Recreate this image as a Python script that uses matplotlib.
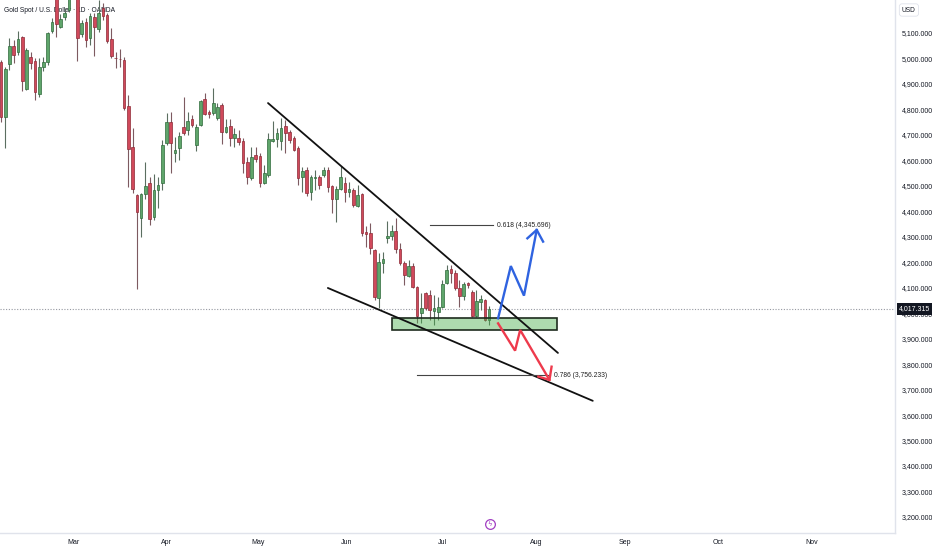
import matplotlib
matplotlib.use("Agg")
import matplotlib.pyplot as plt
import numpy as np
from matplotlib.patches import Rectangle
from matplotlib.transforms import blended_transform_factory

plt.rcParams['font.family'] = ['Liberation Sans', 'DejaVu Sans']

# ---------------- data (daily OHLC, bar index = trading day) ----------------
opens = [4986, 4770, 4978, 5049, 5025, 5084, 4880, 5006, 4990, 4861,
         4967, 4986, 5108, 5261, 5124, 5163, 5190, 5328, 5269, 5096,
         5143, 5080, 5163, 5116, 5198, 5171, 5076, 5002, 4998, 4994,
         4813, 4653, 4464, 4374, 4468, 4511, 4378, 4484, 4511, 4668,
         4751, 4629, 4649, 4731, 4719, 4762, 4660, 4739, 4841, 4790,
         4786, 4766, 4817, 4711, 4735, 4688, 4688, 4676, 4594, 4531,
         4621, 4617, 4511, 4543, 4676, 4684, 4676, 4735, 4711, 4688,
         4649, 4535, 4562, 4476, 4531, 4535, 4543, 4562, 4499, 4448,
         4488, 4511, 4476, 4484, 4421, 4468, 4319, 4315, 4248, 4060,
         4197, 4295, 4303, 4323, 4252, 4197, 4146, 4185, 4103, 4001,
         4079, 4071, 4009, 4005, 4024, 4119, 4174, 4158, 4099, 4068,
         4119, 4083, 3989, 4044, 4052, 3973]
highs = [4994, 4967, 5080, 5073, 5108, 5088, 5041, 5025, 5002, 5002,
         5006, 5104, 5159, 5277, 5175, 5198, 5277, 5367, 5288, 5151,
         5159, 5179, 5179, 5230, 5218, 5179, 5120, 5025, 5037, 5006,
         4857, 4727, 4468, 4472, 4594, 4535, 4546, 4535, 4680, 4786,
         4790, 4692, 4711, 4849, 4790, 4778, 4743, 4837, 4864, 4798,
         4884, 4825, 4825, 4762, 4762, 4727, 4719, 4688, 4613, 4653,
         4653, 4629, 4582, 4707, 4755, 4727, 4766, 4758, 4719, 4696,
         4656, 4574, 4574, 4543, 4562, 4543, 4574, 4574, 4503, 4499,
         4578, 4535, 4515, 4492, 4503, 4472, 4342, 4354, 4252, 4236,
         4240, 4362, 4346, 4374, 4276, 4205, 4209, 4197, 4107, 4079,
         4083, 4091, 4071, 4064, 4130, 4189, 4189, 4170, 4130, 4122,
         4122, 4091, 4091, 4071, 4056, 4030]
lows = [4751, 4649, 4955, 4982, 5014, 4872, 4876, 4959, 4837, 4849,
        4951, 4974, 5100, 5084, 5120, 5151, 5183, 5237, 4990, 5084,
        5045, 5053, 5010, 5104, 5151, 5061, 5002, 4963, 4967, 4798,
        4495, 4472, 4095, 4299, 4448, 4346, 4366, 4413, 4484, 4660,
        4550, 4594, 4601, 4700, 4700, 4731, 4637, 4735, 4778, 4766,
        4778, 4758, 4664, 4707, 4656, 4653, 4660, 4550, 4507, 4523,
        4594, 4495, 4507, 4535, 4672, 4653, 4641, 4629, 4668, 4637,
        4503, 4476, 4460, 4444, 4484, 4488, 4535, 4476, 4393, 4358,
        4484, 4437, 4456, 4417, 4417, 4303, 4260, 4232, 4052, 4020,
        4158, 4276, 4287, 4236, 4189, 4111, 4142, 4099, 3962, 3962,
        4013, 3973, 3954, 3973, 4020, 4115, 4119, 4091, 4024, 4052,
        4099, 3985, 3985, 4013, 3969, 3954]
closes = [4770, 4959, 5049, 5014, 5076, 4912, 5033, 4982, 4868, 4967,
          4986, 5100, 5143, 5135, 5155, 5179, 5249, 5261, 5080, 5139,
          5073, 5167, 5124, 5179, 5167, 5069, 5010, 5000, 4996, 4806,
          4645, 4488, 4397, 4468, 4499, 4370, 4484, 4503, 4660, 4751,
          4668, 4641, 4696, 4707, 4755, 4739, 4731, 4833, 4782, 4782,
          4825, 4810, 4711, 4731, 4688, 4704, 4672, 4590, 4535, 4613,
          4605, 4511, 4550, 4684, 4684, 4707, 4727, 4707, 4680, 4641,
          4531, 4558, 4472, 4535, 4535, 4503, 4562, 4495, 4448, 4488,
          4535, 4476, 4488, 4425, 4464, 4315, 4311, 4256, 4064, 4201,
          4213, 4303, 4323, 4252, 4197, 4150, 4185, 4103, 3989, 4020,
          4020, 4013, 4020, 4024, 4115, 4170, 4158, 4099, 4068, 4115,
          4111, 3989, 4048, 4056, 3973, 4017.315]

month_labels = ["Mar", "Apr", "May", "Jun", "Jul", "Aug", "Sep", "Oct", "Nov"]
month_pos = [17, 39, 60.5, 81.5, 104, 126, 147, 169, 191]
price_ticks = list(range(3200, 5101, 100))
last_price = 4017.315

# drawings (bar index, price)
upper_trend = ([62.9, 131.2], [4825, 3844])
lower_trend = ([77.0, 139.4], [4099, 3656])
zone = (92.1, 131.0, 3934, 3981)
fib_618 = (101.1, 115.9, 4345.696, "0.618 (4,345.696)")
fib_786 = (98.0, 129.3, 3756.233, "0.786 (3,756.233)")
blue_path = ([117.1, 120.1, 123.2, 126.2], [3980, 4185, 4069, 4327])
blue_head = ([124.0, 126.2, 127.7], [4294, 4327, 4281])
red_path = ([117.1, 121.1, 122.3, 129.2], [3960, 3853, 3934, 3738])
red_head = ([126.6, 129.2, 129.7], [3751, 3738, 3790])

# ---------------- figure ----------------
fig = plt.figure(figsize=(9.32, 5.5), dpi=100)
fig.patch.set_facecolor("white")
ax = fig.add_axes([0, 17 / 550, 895 / 932, 533 / 550])
ax.set_facecolor("white")

o = np.array(opens, float)
h = np.array(highs, float)
l = np.array(lows, float)
c = np.array(closes, float)
x = np.arange(len(c))
up = c >= o

body_col = np.where(up, "#5fa56b", "#d0495b")
edge_col = np.where(up, "#2f6a3b", "#8e2a36")
wick_col = np.where(up, "#5b6e60", "#7d5a60")

ax.vlines(x, l, h, colors=list(wick_col), linewidth=0.8, zorder=2)
ax.bar(x, np.maximum(np.abs(c - o), 3), bottom=np.minimum(o, c), width=0.62,
       color=list(body_col), edgecolor=list(edge_col), linewidth=0.5, zorder=3)

# title
ax.text(4 / 932, 1 - 10 / 550, "Gold Spot / U.S. Dollar · 1D · OANDA",
        transform=fig.transFigure, fontsize=4.8, color="#131722",
        va="center", ha="left", zorder=1, clip_on=False)

# trend lines
ax.plot(*upper_trend, color="#111111", lw=1.3, zorder=5, solid_capstyle="round")
ax.plot(*lower_trend, color="#111111", lw=1.3, zorder=5, solid_capstyle="round")

# demand zone
ax.add_patch(Rectangle((zone[0], zone[2]), zone[1] - zone[0], zone[3] - zone[2],
                       facecolor=(0.30, 0.69, 0.31, 0.45), edgecolor="#1e2b1e",
                       lw=1.2, zorder=4))

# fib levels
for x0, x1, p, label in (fib_618, fib_786):
    ax.plot([x0, x1], [p, p], color="#444444", lw=0.8, zorder=5)
    ax.text(x1 + 0.9, p, label, fontsize=4.9, color="#222222",
            va="center", ha="left", zorder=6)

# scenario arrows
ax.plot(*blue_path, color="#2f63e0", lw=1.7, zorder=6, solid_joinstyle="miter")
ax.plot(*blue_head, color="#2f63e0", lw=1.7, zorder=6)
ax.plot(*red_path, color="#ee3a4c", lw=1.7, zorder=6, solid_joinstyle="miter")
ax.plot(*red_head, color="#ee3a4c", lw=1.7, zorder=6)

# last price line + label
ax.axhline(last_price, color="#9598a1", lw=0.8, ls=(0, (1, 1.5)), zorder=1)
bt = blended_transform_factory(ax.transAxes, ax.transData)
ax.annotate(f"{last_price:,.3f}", xy=(1.0, last_price), xycoords=bt,
            xytext=(3.0, 0), textcoords="offset points", fontsize=5,
            color="white", va="center", ha="left", zorder=10,
            annotation_clip=False,
            bbox=dict(boxstyle="square,pad=0.35", fc="#131722", ec="none"))

# event icon
ax.plot([115.2], [3172], marker="o", ms=7, mfc="white", mec="#a23fc2",
        mew=0.9, zorder=6, clip_on=False)
ax.text(115.2, 3172, "ϟ", fontsize=5, color="#a23fc2", ha="center",
        va="center", zorder=7, family="DejaVu Sans")

# axes
ax.set_xlim(-0.236, 210.6)
ax.set_ylim(3137.0, 5229.6)
ax.yaxis.tick_right()
ax.set_yticks(price_ticks)
ax.set_yticklabels([f"{v:,.3f}" for v in price_ticks])
ax.set_xticks(month_pos)
ax.set_xticklabels(month_labels)
ax.tick_params(axis="y", length=0, pad=5, labelsize=5, labelcolor="#131722")
ax.tick_params(axis="x", length=0, pad=4, labelsize=5, labelcolor="#131722")
for s in ("top", "left"):
    ax.spines[s].set_visible(False)
for s in ("bottom", "right"):
    ax.spines[s].set_color("#e0e3eb")
    ax.spines[s].set_linewidth(1.0)

fig.text(902 / 932, 1 - 10 / 550, "USD", fontsize=4.8, color="#131722",
         va="center", ha="left",
         bbox=dict(boxstyle="round,pad=0.4", fc="white", ec="#e0e3eb", lw=0.6))

fig.savefig("out.png", dpi=100, facecolor="white")
